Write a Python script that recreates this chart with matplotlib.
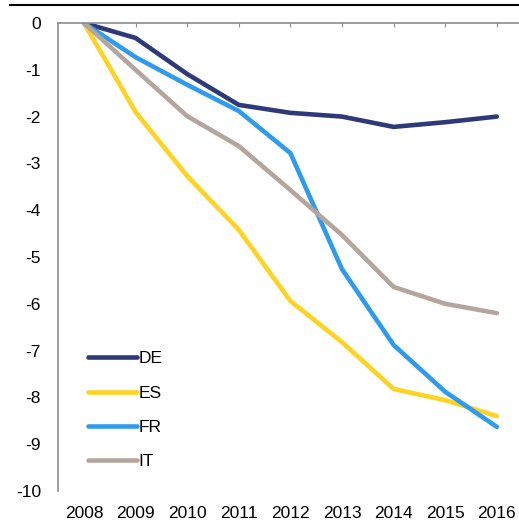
import numpy as np
import matplotlib
matplotlib.use('Agg')
import matplotlib.pyplot as plt
from matplotlib.lines import Line2D

plt.rcParams['font.family'] = ['Liberation Sans', 'DejaVu Sans']
plt.rcParams['axes.unicode_minus'] = False

years = ['2008', '2009', '2010', '2011', '2012', '2013', '2014', '2015', '2016']
de = [0, -0.32, -1.09, -1.75, -1.92, -2.0, -2.22, -2.12, -2.0]
es = [0, -1.9, -3.27, -4.42, -5.94, -6.82, -7.82, -8.06, -8.4]
fr = [0, -0.73, -1.32, -1.88, -2.78, -5.26, -6.88, -7.88, -8.63]
it = [0, -1.0, -1.99, -2.63, -3.57, -4.53, -5.64, -6.0, -6.2]

series = [('DE', de, '#2E3A78'), ('ES', es, '#FFD320'),
          ('FR', fr, '#2E9BF0'), ('IT', it, '#B5A69D')]

fig = plt.figure(figsize=(5.19, 5.2), dpi=100)
ax = fig.add_axes([0.111, 0.0558, 0.889, 0.9])

x = np.arange(len(years))
for name, vals, col in series:
    ax.plot(x, vals, color=col, lw=3.3, label=name, solid_capstyle='round')

ax.set_xlim(-0.51, 8.43)
ax.set_ylim(-10, 0)
ax.set_xticks(x)
ax.set_xticklabels(years)
ax.set_yticks(np.arange(-10, 1, 1))

for s in ['right', 'bottom']:
    ax.spines[s].set_visible(False)
for s in ['top', 'left']:
    ax.spines[s].set_color('#8c8c8c')
    ax.spines[s].set_linewidth(1.2)

ax.tick_params(axis='x', top=True, bottom=False, labelbottom=True, labeltop=False,
               direction='in', length=3, color='#8c8c8c', labelsize=12.5, pad=10.5)
ax.tick_params(axis='y', left=False, length=0, labelsize=12.5, pad=12)

ax.legend(loc='lower left', bbox_to_anchor=(0.047, 0.028), frameon=False,
          fontsize=12.5, handlelength=2.8, handletextpad=0.12, labelspacing=1.1,
          borderpad=0)

fig.add_artist(Line2D([10 / 519, 1], [1 - 4.5 / 520, 1 - 4.5 / 520],
                      color='black', lw=1.5, transform=fig.transFigure))

fig.savefig('out.png', dpi=100)
